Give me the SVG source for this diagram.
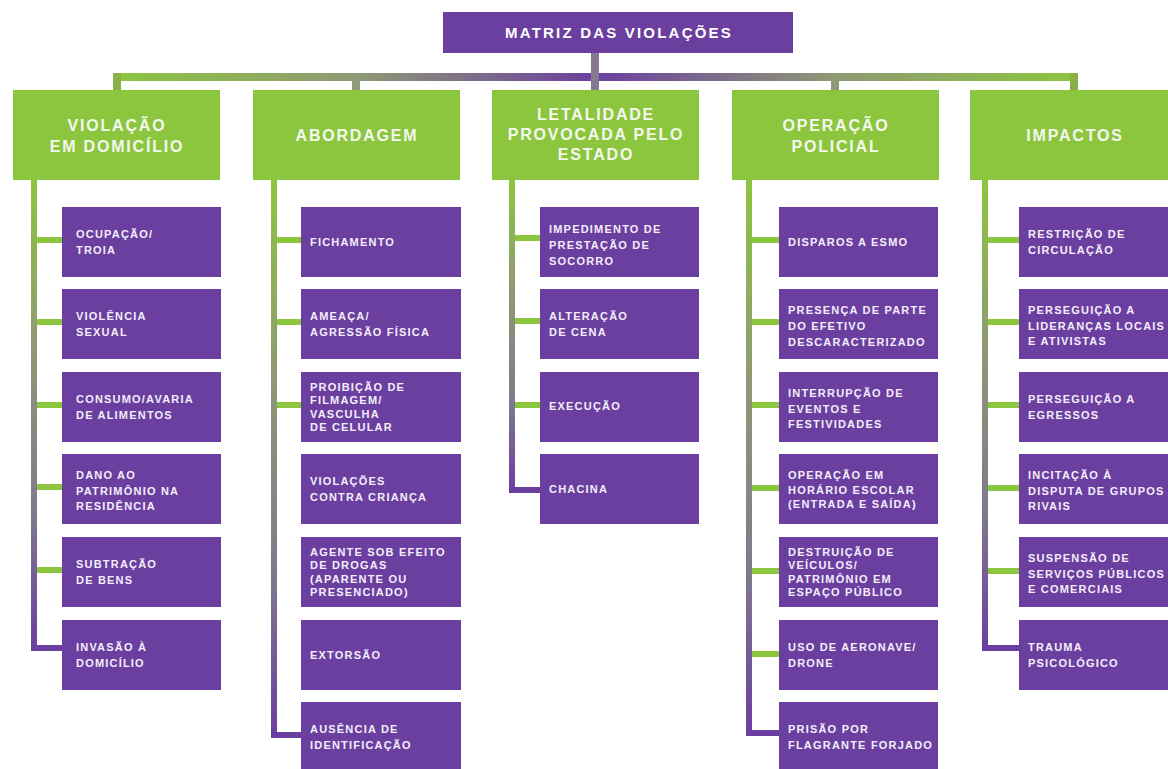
<svg xmlns="http://www.w3.org/2000/svg" width="1168" height="769" viewBox="0 0 1168 769">
<defs>
<linearGradient id="gv" x1="0" y1="0" x2="0" y2="1">
<stop offset="0" stop-color="#8cc63e"/>
<stop offset="0.35" stop-color="#8f9a74"/>
<stop offset="0.7" stop-color="#807a8c"/>
<stop offset="1" stop-color="#6b3fa0"/>
</linearGradient>
<linearGradient id="gh" x1="0" y1="0" x2="1" y2="0">
<stop offset="0" stop-color="#8cc63e"/>
<stop offset="0.25" stop-color="#8f9a74"/>
<stop offset="0.5" stop-color="#6b3fa0"/>
<stop offset="0.75" stop-color="#8f9a74"/>
<stop offset="1" stop-color="#8cc63e"/>
</linearGradient>
<style>
.hdr{fill:#8cc63e}
.box{fill:#6b3fa0}
.tick{fill:#8cc63e}
.end{fill:#6b3fa0}
.vl{fill:url(#gv)}
.ht{font-family:"Liberation Sans",Arial,sans-serif;font-weight:bold;font-size:16px;letter-spacing:1.8px;fill:#f4f8ee;text-anchor:middle}
.tt{font-family:"Liberation Sans",Arial,sans-serif;font-weight:bold;font-size:15px;letter-spacing:2.2px;fill:#ffffff;text-anchor:middle}
.bt{font-family:"Liberation Sans",Arial,sans-serif;font-weight:bold;font-size:11px;letter-spacing:1.2px;fill:#f3eefa}
</style>
</defs>
<rect width="1168" height="769" fill="#ffffff"/>

<g id="connectors">
<rect x="113" y="73" width="965" height="8" fill="url(#gh)"/>
<rect x="113" y="73" width="8" height="18" fill="#8ab04a"/>
<rect x="352" y="77" width="8" height="14" fill="#8e9a7a"/>
<rect x="591" y="52" width="8" height="39" fill="#857a90"/>
<rect x="831" y="77" width="8" height="14" fill="#8e9a7a"/>
<rect x="1070" y="73" width="8" height="18" fill="#8ab04a"/>

<rect class="vl" x="31" y="180" width="6" height="471"/>
<rect class="tick" x="37" y="237" width="25" height="6"/>
<rect class="tick" x="37" y="319" width="25" height="6"/>
<rect class="tick" x="37" y="402" width="25" height="6"/>
<rect class="tick" x="37" y="484" width="25" height="6"/>
<rect class="tick" x="37" y="567" width="25" height="6"/>
<rect class="end" x="31" y="645" width="31" height="6"/>

<rect class="vl" x="271" y="180" width="6" height="558"/>
<rect class="tick" x="277" y="237" width="24" height="6"/>
<rect class="tick" x="277" y="319" width="24" height="6"/>
<rect class="tick" x="277" y="402" width="24" height="6"/>
<rect class="end" x="271" y="732" width="30" height="6"/>

<rect class="vl" x="509" y="180" width="6" height="313"/>
<rect class="tick" x="515" y="235" width="25" height="6"/>
<rect class="tick" x="515" y="318" width="25" height="6"/>
<rect class="tick" x="515" y="402" width="25" height="6"/>
<rect class="end" x="509" y="487" width="31" height="6"/>

<rect class="vl" x="746" y="180" width="6" height="556"/>
<rect class="tick" x="752" y="237" width="27" height="6"/>
<rect class="tick" x="752" y="319" width="27" height="6"/>
<rect class="tick" x="752" y="402" width="27" height="6"/>
<rect class="tick" x="752" y="485" width="27" height="6"/>
<rect class="tick" x="752" y="568" width="27" height="6"/>
<rect class="tick" x="752" y="651" width="27" height="6"/>
<rect class="end" x="746" y="730" width="33" height="6"/>

<rect class="vl" x="982" y="180" width="6" height="471"/>
<rect class="tick" x="988" y="237" width="31" height="6"/>
<rect class="tick" x="988" y="319" width="31" height="6"/>
<rect class="tick" x="988" y="402" width="31" height="6"/>
<rect class="tick" x="988" y="485" width="31" height="6"/>
<rect class="tick" x="988" y="568" width="31" height="6"/>
<rect class="end" x="982" y="645" width="37" height="6"/>
</g>

<g id="title">
<rect class="box" x="443" y="12" width="350" height="41"/>
<text class="tt" x="619" y="38">MATRIZ DAS VIOLAÇÕES</text>
</g>

<g id="h1"><rect class="hdr" x="13" y="90" width="207" height="90"/>
<text class="ht" x="117" y="131">VIOLAÇÃO</text><text class="ht" x="117" y="152">EM DOMICÍLIO</text></g>
<g id="h2"><rect class="hdr" x="253" y="90" width="207" height="90"/>
<text class="ht" x="357" y="141">ABORDAGEM</text></g>
<g id="h3"><rect class="hdr" x="492" y="90" width="207" height="90"/>
<text class="ht" x="596" y="120">LETALIDADE</text><text class="ht" x="596" y="140">PROVOCADA PELO</text><text class="ht" x="596" y="160">ESTADO</text></g>
<g id="h4"><rect class="hdr" x="732" y="90" width="207" height="90"/>
<text class="ht" x="836" y="131">OPERAÇÃO</text><text class="ht" x="836" y="152">POLICIAL</text></g>
<g id="h5"><rect class="hdr" x="970" y="90" width="210" height="90"/>
<text class="ht" x="1075" y="141">IMPACTOS</text></g>

<g id="c1n1"><rect class="box" x="62" y="207" width="159" height="70"/><text class="bt" x="76" y="238">OCUPAÇÃO/</text><text class="bt" x="76" y="254">TROIA</text></g>
<g id="c1n2"><rect class="box" x="62" y="289" width="159" height="70"/><text class="bt" x="76" y="320">VIOLÊNCIA</text><text class="bt" x="76" y="336">SEXUAL</text></g>
<g id="c1n3"><rect class="box" x="62" y="372" width="159" height="70"/><text class="bt" x="76" y="403">CONSUMO/AVARIA</text><text class="bt" x="76" y="419">DE ALIMENTOS</text></g>
<g id="c1n4"><rect class="box" x="62" y="454" width="159" height="70"/><text class="bt" x="76" y="479">DANO AO</text><text class="bt" x="76" y="495">PATRIMÔNIO NA</text><text class="bt" x="76" y="510">RESIDÊNCIA</text></g>
<g id="c1n5"><rect class="box" x="62" y="537" width="159" height="70"/><text class="bt" x="76" y="568">SUBTRAÇÃO</text><text class="bt" x="76" y="584">DE BENS</text></g>
<g id="c1n6"><rect class="box" x="62" y="620" width="159" height="70"/><text class="bt" x="76" y="651">INVASÃO À</text><text class="bt" x="76" y="667">DOMICÍLIO</text></g>

<g id="c2n1"><rect class="box" x="301" y="207" width="160" height="70"/><text class="bt" x="310" y="246">FICHAMENTO</text></g>
<g id="c2n2"><rect class="box" x="301" y="289" width="160" height="70"/><text class="bt" x="310" y="320">AMEAÇA/</text><text class="bt" x="310" y="336">AGRESSÃO FÍSICA</text></g>
<g id="c2n3"><rect class="box" x="301" y="372" width="160" height="70"/><text class="bt" x="310" y="391">PROIBIÇÃO DE</text><text class="bt" x="310" y="404">FILMAGEM/</text><text class="bt" x="310" y="418">VASCULHA</text><text class="bt" x="310" y="431">DE CELULAR</text></g>
<g id="c2n4"><rect class="box" x="301" y="454" width="160" height="70"/><text class="bt" x="310" y="485">VIOLAÇÕES</text><text class="bt" x="310" y="501">CONTRA CRIANÇA</text></g>
<g id="c2n5"><rect class="box" x="301" y="537" width="160" height="70"/><text class="bt" x="310" y="556">AGENTE SOB EFEITO</text><text class="bt" x="310" y="569">DE DROGAS</text><text class="bt" x="310" y="583">(APARENTE OU</text><text class="bt" x="310" y="596">PRESENCIADO)</text></g>
<g id="c2n6"><rect class="box" x="301" y="620" width="160" height="70"/><text class="bt" x="310" y="659">EXTORSÃO</text></g>
<g id="c2n7"><rect class="box" x="301" y="702" width="160" height="70"/><text class="bt" x="310" y="733">AUSÊNCIA DE</text><text class="bt" x="310" y="749">IDENTIFICAÇÃO</text></g>

<g id="c3n1"><rect class="box" x="540" y="207" width="159" height="70"/><text class="bt" x="549" y="233">IMPEDIMENTO DE</text><text class="bt" x="549" y="249">PRESTAÇÃO DE</text><text class="bt" x="549" y="265">SOCORRO</text></g>
<g id="c3n2"><rect class="box" x="540" y="289" width="159" height="70"/><text class="bt" x="549" y="320">ALTERAÇÃO</text><text class="bt" x="549" y="336">DE CENA</text></g>
<g id="c3n3"><rect class="box" x="540" y="372" width="159" height="70"/><text class="bt" x="549" y="410">EXECUÇÃO</text></g>
<g id="c3n4"><rect class="box" x="540" y="454" width="159" height="70"/><text class="bt" x="549" y="493">CHACINA</text></g>

<g id="c4n1"><rect class="box" x="779" y="207" width="159" height="70"/><text class="bt" x="788" y="246">DISPAROS A ESMO</text></g>
<g id="c4n2"><rect class="box" x="779" y="289" width="159" height="70"/><text class="bt" x="788" y="314">PRESENÇA DE PARTE</text><text class="bt" x="788" y="330">DO EFETIVO</text><text class="bt" x="788" y="346">DESCARACTERIZADO</text></g>
<g id="c4n3"><rect class="box" x="779" y="372" width="159" height="70"/><text class="bt" x="788" y="397">INTERRUPÇÃO DE</text><text class="bt" x="788" y="413">EVENTOS E</text><text class="bt" x="788" y="428">FESTIVIDADES</text></g>
<g id="c4n4"><rect class="box" x="779" y="454" width="159" height="70"/><text class="bt" x="788" y="479">OPERAÇÃO EM</text><text class="bt" x="788" y="494">HORÁRIO ESCOLAR</text><text class="bt" x="788" y="508">(ENTRADA E SAÍDA)</text></g>
<g id="c4n5"><rect class="box" x="779" y="537" width="159" height="70"/><text class="bt" x="788" y="556">DESTRUIÇÃO DE</text><text class="bt" x="788" y="569">VEÍCULOS/</text><text class="bt" x="788" y="583">PATRIMÔNIO EM</text><text class="bt" x="788" y="596">ESPAÇO PÚBLICO</text></g>
<g id="c4n6"><rect class="box" x="779" y="620" width="159" height="70"/><text class="bt" x="788" y="651">USO DE AERONAVE/</text><text class="bt" x="788" y="667">DRONE</text></g>
<g id="c4n7"><rect class="box" x="779" y="702" width="159" height="70"/><text class="bt" x="788" y="733">PRISÃO POR</text><text class="bt" x="788" y="749">FLAGRANTE FORJADO</text></g>

<g id="c5n1"><rect class="box" x="1019" y="207" width="160" height="70"/><text class="bt" x="1028" y="238">RESTRIÇÃO DE</text><text class="bt" x="1028" y="254">CIRCULAÇÃO</text></g>
<g id="c5n2"><rect class="box" x="1019" y="289" width="160" height="70"/><text class="bt" x="1028" y="314">PERSEGUIÇÃO A</text><text class="bt" x="1028" y="330">LIDERANÇAS LOCAIS</text><text class="bt" x="1028" y="345">E ATIVISTAS</text></g>
<g id="c5n3"><rect class="box" x="1019" y="372" width="160" height="70"/><text class="bt" x="1028" y="403">PERSEGUIÇÃO A</text><text class="bt" x="1028" y="419">EGRESSOS</text></g>
<g id="c5n4"><rect class="box" x="1019" y="454" width="160" height="70"/><text class="bt" x="1028" y="479">INCITAÇÃO À</text><text class="bt" x="1028" y="495">DISPUTA DE GRUPOS</text><text class="bt" x="1028" y="510">RIVAIS</text></g>
<g id="c5n5"><rect class="box" x="1019" y="537" width="160" height="70"/><text class="bt" x="1028" y="562">SUSPENSÃO DE</text><text class="bt" x="1028" y="578">SERVIÇOS PÚBLICOS</text><text class="bt" x="1028" y="593">E COMERCIAIS</text></g>
<g id="c5n6"><rect class="box" x="1019" y="620" width="160" height="70"/><text class="bt" x="1028" y="651">TRAUMA</text><text class="bt" x="1028" y="667">PSICOLÓGICO</text></g>
</svg>
